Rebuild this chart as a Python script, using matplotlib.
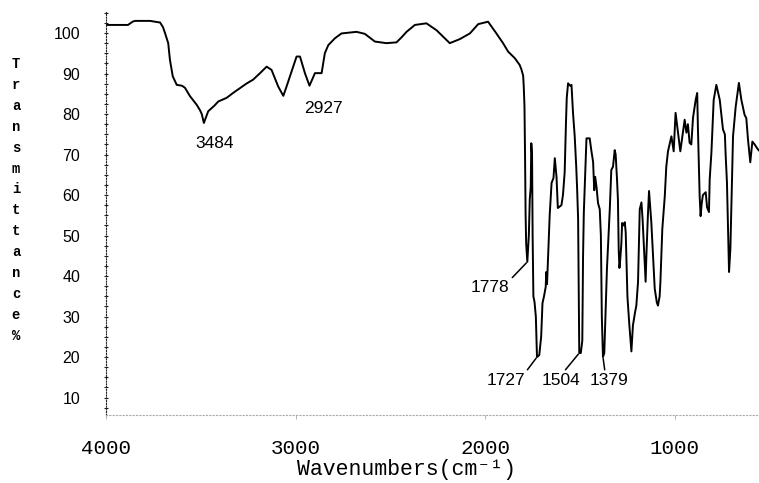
import matplotlib.pyplot as plt
from matplotlib.ticker import MultipleLocator
import numpy as np

# IR spectrum: wavenumber (cm-1) against transmittance (%)
wavenumber = [
    4000, 3900, 3884, 3860, 3847, 3800, 3768, 3740, 3715, 3700, 3689, 3672,
    3663, 3648, 3627, 3600, 3584, 3557, 3522, 3505, 3495, 3484, 3461, 3430,
    3408, 3364, 3330, 3294, 3260, 3224, 3190, 3153, 3127, 3092, 3065, 3050,
    3030, 2995, 2977, 2951, 2927, 2898, 2863, 2846, 2828, 2793, 2758, 2679,
    2635, 2582, 2521, 2468, 2440, 2415, 2371, 2310, 2257, 2187, 2134, 2081,
    2037, 1985, 1941, 1906, 1879, 1844, 1818, 1809, 1800, 1797, 1793, 1790,
    1787, 1784, 1778, 1770, 1765, 1760, 1757, 1753, 1750, 1746, 1740, 1733,
    1727, 1715, 1705, 1698, 1690, 1681, 1678, 1674, 1668, 1660, 1650, 1640,
    1633, 1624, 1617, 1598, 1590, 1581, 1574, 1570, 1563, 1552, 1545, 1537,
    1528, 1520, 1515, 1510, 1504, 1496, 1488, 1484, 1480, 1475, 1466, 1449,
    1440, 1431, 1425, 1420, 1413, 1405, 1396, 1390, 1385, 1379, 1372, 1366,
    1358, 1343, 1335, 1326, 1317, 1312, 1305, 1300, 1296, 1292, 1288, 1282,
    1278, 1270, 1264, 1259, 1250, 1240, 1229, 1221, 1210, 1203, 1194, 1185,
    1176, 1170, 1164, 1154, 1150, 1142, 1136, 1124, 1115, 1106, 1095, 1089,
    1080, 1076, 1066, 1053, 1045, 1036, 1018, 1006, 996, 983, 971, 960,
    948, 939, 931, 922, 913, 904, 890, 882, 878, 869, 864, 858,
    852, 837, 830, 820, 816, 807, 795, 781, 770, 763, 746, 736,
    732, 725, 714, 707, 702, 693, 679, 662, 649, 632, 623, 614,
    602, 591, 579, 562, 556,
]
transmittance = [
    102.0, 102.0, 102.0, 102.8, 103.0, 103.0, 103.0, 102.8, 102.6, 101.5, 100.0, 97.5,
    93.4, 89.3, 87.2, 87.0, 86.5, 84.4, 82.3, 81.0, 80.0, 77.8, 80.7, 82.0,
    83.1, 84.0, 85.2, 86.4, 87.5, 88.5, 90.0, 91.7, 90.9, 86.8, 84.5, 86.5,
    89.3, 94.2, 94.2, 90.1, 87.0, 90.1, 90.1, 95.0, 97.0, 98.7, 99.9, 100.3,
    99.8, 97.9, 97.5, 97.7, 99.0, 100.3, 102.0, 102.4, 100.7, 97.5, 98.5, 99.9,
    102.2, 102.8, 99.9, 97.5, 95.4, 93.8, 92.1, 91.0, 89.5, 87.0, 82.0, 70.0,
    55.0, 48.0, 43.5, 50.0, 59.0, 62.0, 72.8, 70.0, 50.0, 35.0, 33.6, 30.0,
    20.0, 20.5, 25.0, 33.3, 35.0, 37.3, 41.0, 38.0, 45.0, 55.0, 63.0, 64.2,
    69.1, 64.5, 56.8, 57.5, 60.0, 65.6, 78.0, 84.0, 87.6, 87.0, 87.2, 80.3,
    74.5, 67.0, 61.2, 54.0, 21.0, 21.0, 24.0, 45.0, 55.6, 62.2, 74.0, 74.0,
    70.9, 68.2, 61.2, 64.5, 62.0, 58.0, 56.5, 50.0, 30.0, 20.0, 21.0, 30.0,
    41.8, 56.5, 66.2, 67.0, 71.1, 70.0, 64.0, 58.8, 46.4, 42.0, 44.0, 48.0,
    53.1, 52.5, 53.3, 50.8, 35.0, 28.0, 21.4, 27.8, 31.0, 32.7, 38.6, 56.5,
    58.2, 54.0, 48.4, 38.6, 45.0, 55.0, 61.0, 53.3, 45.0, 36.9, 33.5, 32.7,
    35.0, 38.6, 51.6, 59.7, 67.0, 70.8, 74.5, 70.8, 80.3, 75.4, 70.8, 74.5,
    78.6, 75.4, 77.5, 72.9, 72.5, 79.1, 83.5, 85.2, 76.2, 59.7, 54.8, 58.0,
    60.0, 60.7, 57.0, 55.8, 63.9, 70.5, 83.5, 87.2, 85.0, 83.5, 76.2, 75.0,
    70.0, 63.1, 41.0, 46.7, 56.5, 74.5, 81.8, 87.7, 83.5, 79.8, 79.0, 73.7,
    68.1, 73.2, 72.5, 71.3, 71.0,
]

peak_labels = [3484, 2927, 1778, 1727, 1504, 1379]
# text offsets from the peak, in pixels, and where the leader line leaves the text
label_offsets = [(11, -21), (14, -23), (-37, -26), (-31, -23), (-18, -27), (6, -23)]
leader_relpos = [None, None, (1, 1), (1, 1), (0.55, 1), (0.4, 1)]

mono = ['Liberation Mono', 'DejaVu Sans Mono']

fig = plt.figure(figsize=(7.59, 4.83), dpi=100)
ax = fig.add_axes([0.1397, 0.1408, 0.8603, 0.8344])

ax.plot(wavenumber, transmittance, color='black', lw=1.4)
ax.set_xlim(4000, 556)
ax.set_ylim(5.7, 105.2)

ax.spines[['top', 'right']].set_visible(False)
ax.spines['left'].set_linestyle((0, (1, 1.5)))
ax.spines['left'].set_color('#222222')
ax.spines['bottom'].set_linestyle((0, (1, 2)))
ax.spines['bottom'].set_color('#aaaaaa')

ax.set_yticks(range(10, 101, 10))
ax.yaxis.set_minor_locator(MultipleLocator(2.5))
ax.tick_params(axis='y', which='both', direction='inout', length=3, width=0.8,
               color='#222222', pad=17, labelsize=11.5)
for lbl in ax.get_yticklabels():
    lbl.set_family('Liberation Sans')

ax.set_xticks([4000, 3000, 2000, 1000])
ax.tick_params(axis='x', length=3, width=0.6, color='#aaaaaa', pad=14, labelsize=15)
for lbl in ax.get_xticklabels():
    lbl.set_family(mono)

# peak labels
for w, off, rel in zip(peak_labels, label_offsets, leader_relpos):
    t = np.interp(w, wavenumber[::-1], transmittance[::-1])
    kw = {}
    if rel is not None:
        kw['arrowprops'] = dict(arrowstyle='-', color='black', lw=1.1,
                                relpos=rel, shrinkA=0, shrinkB=1)
    ax.annotate(str(w), xy=(w, t), xytext=off, textcoords='offset pixels',
                ha='center', va='center', fontsize=12.5,
                family='Liberation Sans', **kw)

fig.text(0.536, 1 - 469 / 483, 'Wavenumbers(cm⁻¹)', ha='center', va='center',
         fontsize=15.5, family=mono)
fig.text(0.021, 0.586, '\n'.join('Transmittance%'), ha='center', va='center',
         fontsize=10, family=mono, fontweight='bold', linespacing=1.63)

fig.savefig('out.png', dpi=100)
